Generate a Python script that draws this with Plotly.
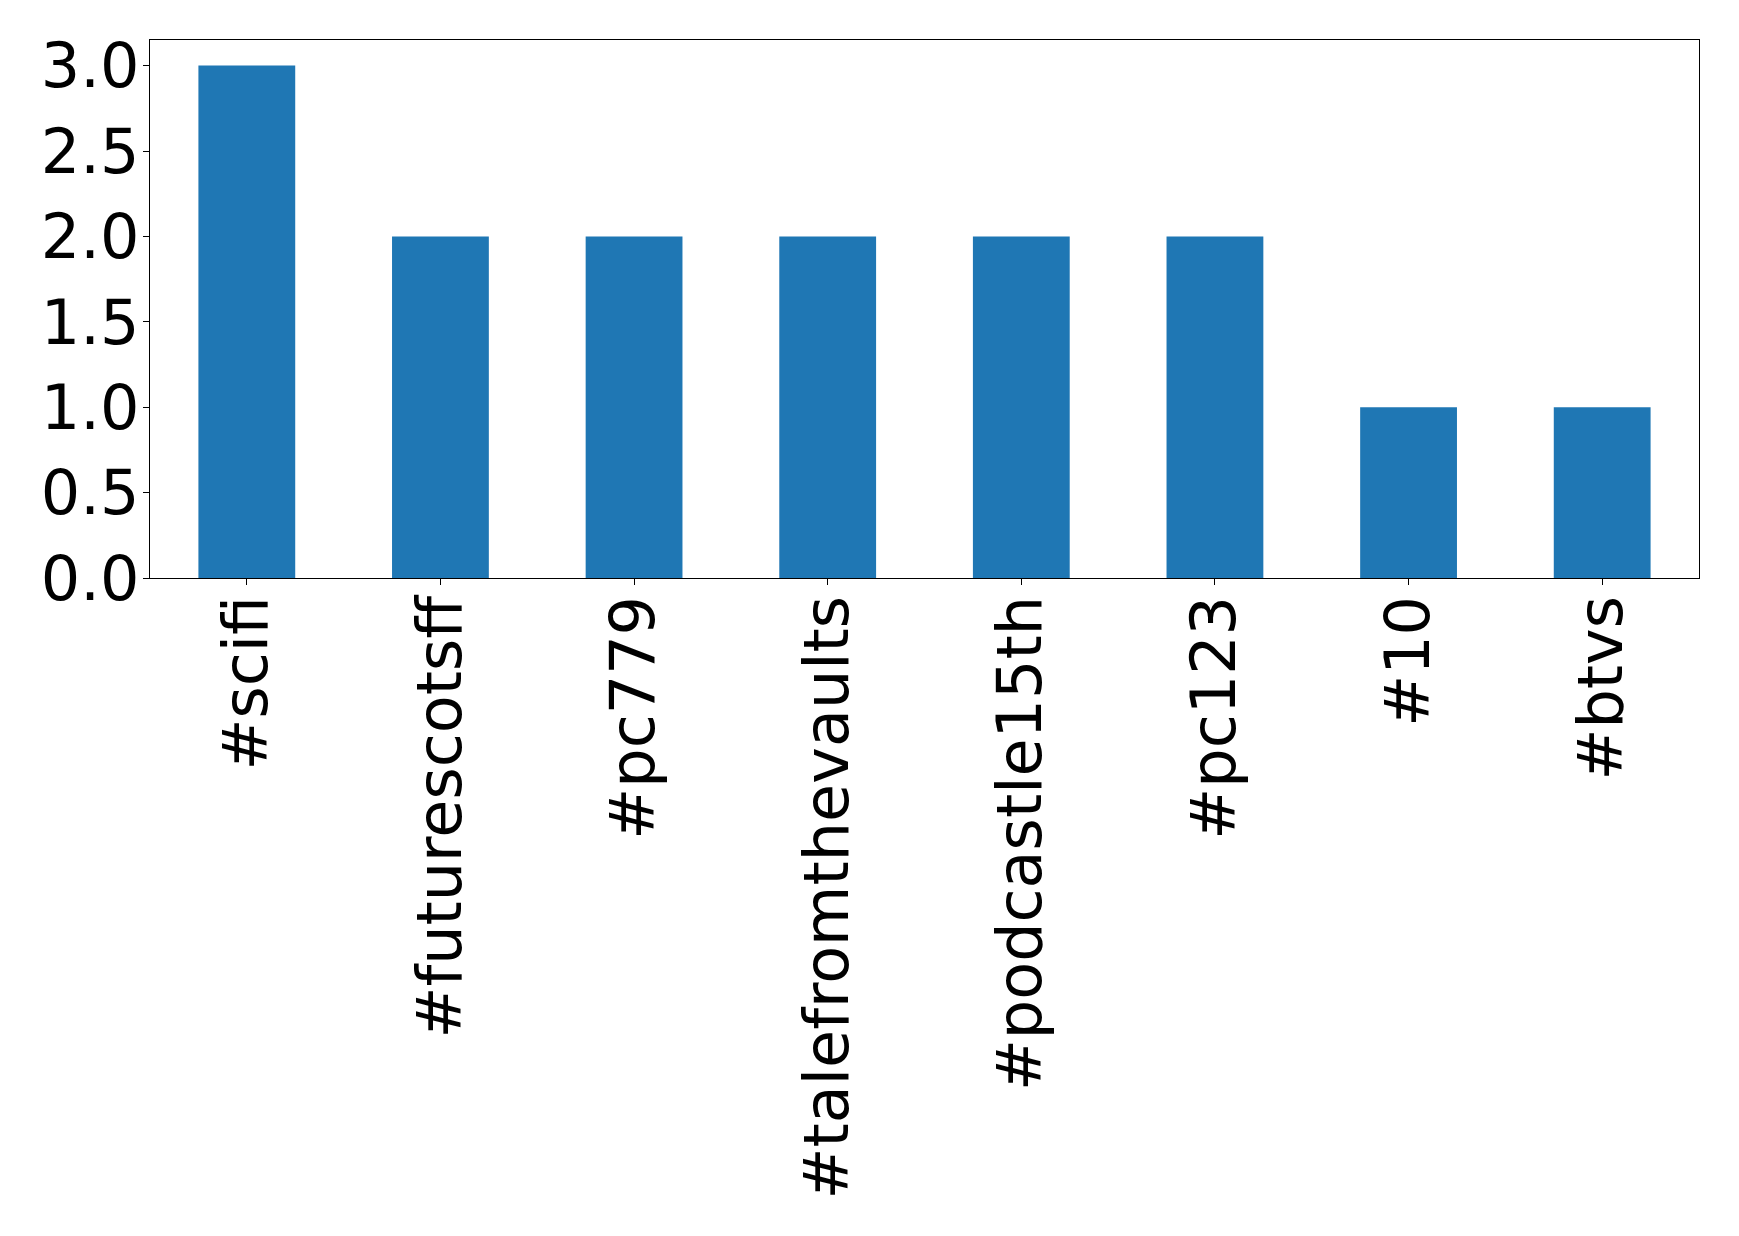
import plotly.graph_objects as go

categories = ["#scifi", "#futurescotsff", "#pc779", "#talefromthevaults",
              "#podcastle15th", "#pc123", "#10", "#btvs"]
counts = [3, 2, 2, 2, 2, 2, 1, 1]
y_ticks = [0.0, 0.5, 1.0, 1.5, 2.0, 2.5, 3.0]
y_tick_labels = ["0.0", "0.5", "1.0", "1.5", "2.0", "2.5", "3.0"]

fig = go.Figure(go.Bar(
    x=list(range(len(categories))), y=counts, width=0.5,
    marker=dict(color="#1f77b4", line=dict(width=0)),
))

axis_common = dict(
    showline=True, linecolor="black", linewidth=1.3, mirror=True,
    showgrid=False, zeroline=False, ticks="outside", ticklen=6,
    tickwidth=1.3, tickcolor="black", automargin=False,
    tickfont=dict(family="DejaVu Sans", size=62, color="black"),
)

# page body adds an 8px offset; margins compensate for it
fig.update_layout(
    width=1739, height=1236,
    margin=dict(l=142, r=48, t=32, b=666, pad=0),
    paper_bgcolor="white", plot_bgcolor="white",
    showlegend=False,
    font=dict(family="DejaVu Sans", size=62, color="black"),
    xaxis=dict(
        range=[-0.5, len(categories) - 0.5],
        tickmode="array", tickvals=list(range(len(categories))),
        ticktext=categories, tickangle=-90, ticklabelstandoff=-14,
        **axis_common,
    ),
    yaxis=dict(
        range=[0, 3.15], tickmode="array", tickvals=y_ticks,
        ticktext=y_tick_labels, ticklabelstandoff=-9, **axis_common,
    ),
)

fig.write_html("out.html")
